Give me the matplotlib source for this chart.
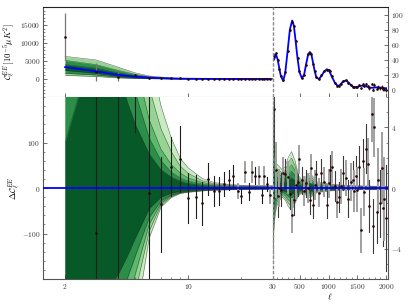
import numpy as np
import matplotlib
matplotlib.use("Agg")
import matplotlib.pyplot as plt
from matplotlib.ticker import FixedLocator, MultipleLocator, FuncFormatter, NullFormatter, NullLocator

plt.rcParams.update({
    "font.family": "serif",
    "font.serif": ["cmr10", "DejaVu Serif"],
    "mathtext.fontset": "cm",
    "axes.formatter.use_mathtext": True,
    "font.size": 5.3,
    "axes.linewidth": 0.8,
})

# ---- low-ell (2..29): model and residuals, in 10^-5 muK^2 -------------------
ell_lo = np.arange(2, 30)
model_lo = [3300, 2130, 1150, 650, 380, 230, 150, 100, 70, 52, 40, 32, 26, 21,
            17, 14, 12, 10, 9, 8, 8, 8, 9, 10, 11, 12, 14, 16]
dc_lo = [8450, -98, -510, 380, -11, -36, 47, 64, -22, -19, -34, 20, -7, -6,
         9, 18, 27, -7, -18, 36, -8, 36, 27, 27, -16, 27, 9, -16]
err_lo = [6500, 2500, 1200, 256, 260, 105, 65, 72, 55, 48, 47, 35, 33, 31,
          27, 22, 24, 16, 16, 22, 19, 22, 19, 19, 17, 20, 16, 18]

# ---- high-ell binned: model and residuals ----------------------------------
ell_hi = [59, 89, 120, 150, 175, 215, 250, 290, 331, 371, 400, 430, 463, 497,
          540, 578, 610, 648, 677, 705, 734, 762, 791, 833, 878, 924, 971, 1000,
          1023, 1058, 1110, 1155, 1190, 1215, 1248, 1300, 1345, 1386, 1431, 1449,
          1478, 1500, 1535, 1559, 1594, 1622, 1651, 1681, 1708, 1750, 1767, 1795,
          1836, 1864, 1893, 1923, 1950, 1968, 1995]
model_hi = [40, 47, 40, 27, 18, 11.5, 22, 50, 80, 92, 85, 65, 42, 23,
            15, 20, 33, 47, 50, 46, 35, 24, 16, 14, 18, 24, 27, 26,
            23, 17, 9, 5, 5.5, 7.5, 10.5, 12, 9.5, 6, 3.5, 3,
            3.2, 3.6, 4.4, 4.9, 5, 4.8, 4.2, 3.4, 2.7, 2.3, 2.3, 2.6,
            2.9, 2.9, 2.6, 2.2, 1.9, 1.8, 1.6]
dc_hi = [5.2, 1.2, -0.5, 0.0, -0.1, 1.0, 0.9, 0.7, -0.4, -1.8, -0.8, 0.2, 0.4, 1.9,
         0.5, -0.2, 0.3, 0.0, -0.8, 1.3, -1.1, 0.2, 0.9, -0.3, 1.0, 0.4, -1.1, 0.3,
         1.2, 1.4, 0.15, -0.9, -0.6, 0.1, 1.0, 0.65, -0.7, 0.4, 0.5, -0.2,
         0.8, -0.1, 1.4, -2.8, 1.75, -0.25, 2.6, 1.6, -1.2, 4.9, -2.5, 4.0,
         -1.6, 0.5, -1.0, 1.3, -1.3, -0.7, -2.0]
err_hi = [3.0, 1.8, 1.4, 1.2, 1.1, 1.0, 1.0, 1.0, 1.0, 1.1, 1.0, 0.9, 0.9, 0.9,
          0.9, 0.9, 0.9, 0.9, 0.9, 0.9, 0.9, 0.9, 0.9, 0.9, 0.9, 0.9, 0.9, 0.9,
          1.0, 1.0, 1.0, 1.0, 1.0, 1.1, 1.1, 1.1, 1.2, 1.2, 1.3, 1.3,
          1.3, 1.4, 1.4, 1.4, 1.5, 1.5, 1.6, 1.6, 1.7, 1.8, 1.8, 1.9,
          2.0, 2.1, 2.2, 2.3, 2.5, 2.7, 3.5]

# ---- posterior bands ---------------------------------------------------------
# top-left (C_ell), three levels outer -> inner
tl_knots = [2, 3, 4, 5, 6, 8, 10, 15, 30]
tl_up = [[6300, 5300, 3300, 1700, 850, 300, 120, 30, 10],
         [5200, 4000, 2400, 1300, 650, 230, 95, 25, 8],
         [4000, 3000, 1700, 950, 500, 190, 80, 22, 7]]
tl_lo = [[1000, 700, 300, 150, 80, 30, 15, 5, 3],
         [1600, 1100, 500, 250, 130, 50, 25, 8, 4],
         [2400, 1600, 800, 400, 220, 90, 45, 12, 5]]

# bottom-left (Delta C_ell), five levels outer -> inner
bl_knots = [2, 2.5, 3, 3.5, 4, 4.5, 5, 6, 7, 8, 9, 10, 12, 14, 17, 20, 25, 30]
bl_up = [
    [300, 300, 300, 300, 300, 300, 300, 300, 180, 110, 65, 44, 21, 12, 8, 6, 5, 5],
    [300, 300, 300, 300, 300, 300, 300, 220, 130, 80, 48, 32, 16, 9.5, 6.5, 5, 4.3, 4],
    [300, 300, 300, 300, 300, 300, 280, 150, 85, 52, 33, 22, 12, 7.5, 5, 4, 3.5, 3.2],
    [300, 300, 300, 300, 300, 260, 210, 110, 60, 35, 22, 15, 8.5, 5.5, 4, 3.3, 2.7, 2.5],
    [100, 230, 300, 300, 260, 190, 140, 75, 40, 24, 15, 10, 6, 4, 3, 2.5, 2, 2],
]
bl_lo = [
    [-300, -300, -300, -300, -300, -300, -300, -110, -42, -21, -12, -9.5, -6.5, -5, -4, -3.5, -3, -3],
    [-300, -300, -300, -300, -300, -300, -230, -95, -37, -19, -11, -8.5, -5.7, -4.3, -3.3, -2.8, -2.5, -2.3],
    [-300, -300, -300, -300, -300, -260, -190, -80, -33, -17, -10, -7.5, -5, -3.7, -2.8, -2.3, -2, -1.8],
    [-300, -300, -300, -300, -260, -200, -150, -65, -28, -15, -9, -6.5, -4, -3, -2.2, -1.8, -1.5, -1.4],
    [-300, -300, -300, -220, -190, -150, -110, -45, -20, -11, -7, -5, -3, -2.2, -1.6, -1.3, -1, -1],
]

# bottom-right (Delta C_ell), outer envelope
br_knots = [30, 40, 50, 70, 100, 150, 200, 250, 300, 360, 420, 480, 550, 620,
            680, 740, 800, 900, 1000, 1200, 1500, 2030]
br_up = [6.5, 5.5, 4, 2.5, 1.6, 1.4, 1.2, 1.4, 2.0, 2.4, 1.8, 0.8, 0.5, 0.8,
         1.0, 0.7, 0.4, 0.35, 0.3, 0.2, 0.15, 0.1]
br_lo = [-6, -4.5, -3, -2, -1.2, -0.8, -0.6, -0.8, -1.2, -1.5, -1.0, -0.5, -0.3,
         -0.5, -0.65, -0.45, -0.3, -0.25, -0.2, -0.15, -0.1, -0.1]
br_frac = [1.0, 0.82, 0.64, 0.46, 0.28]

greens = ["#c9ebc3", "#97d493", "#5cb86b", "#2b8f4a", "#075a28"]
edge_kw = dict(color="#2e2e2e", lw=0.35, alpha=0.75)

W, H = 411, 308


def box(x0, y0, x1, y1):
    return [x0 / W, 1 - y1 / H, (x1 - x0) / W, (y1 - y0) / H]


fig = plt.figure(figsize=(W / 100, H / 100), dpi=100)
ax_tl = fig.add_axes(box(43, 7, 272.5, 97))
ax_tr = fig.add_axes(box(272.5, 7, 388, 97))
ax_bl = fig.add_axes(box(43, 97, 272.5, 279))
ax_br = fig.add_axes(box(272.5, 97, 388, 279))

pt_color = "#2a0505"
blue = "#0000ff"

# ---- top left ---------------------------------------------------------------
for up, lo, c in zip(tl_up, tl_lo, [greens[1], greens[3], greens[4]]):
    ax_tl.fill_between(tl_knots, lo, up, color=c, lw=0, zorder=1)
    ax_tl.plot(tl_knots, up, zorder=1.5, **edge_kw)
    ax_tl.plot(tl_knots, lo, zorder=1.5, **edge_kw)
c_lo = np.array(model_lo) + np.array(dc_lo)
ax_tl.errorbar(ell_lo, c_lo, yerr=err_lo, fmt="none", ecolor="#777777",
               elinewidth=0.9, capsize=0, zorder=2)
ax_tl.plot(ell_lo, model_lo, color=blue, lw=1.3, zorder=3)
ax_tl.plot(ell_lo, c_lo, "o", ms=1.9, mew=0, color=pt_color, zorder=4)

# ---- top right --------------------------------------------------------------
c_hi = np.array(model_hi) + np.array(dc_hi)
ax_tr.errorbar(ell_hi, c_hi, yerr=err_hi, fmt="none", ecolor="#555555",
               elinewidth=0.7, capsize=0, zorder=2)
ax_tr.plot(ell_hi, model_hi, color=blue, lw=1.3, zorder=3)
ax_tr.plot(ell_hi, c_hi, "o", ms=1.9, mew=0, color=pt_color, zorder=4)

# ---- bottom left ------------------------------------------------------------
for up, lo, c in zip(bl_up, bl_lo, greens):
    ax_bl.fill_between(bl_knots, lo, up, color=c, lw=0, zorder=1)
    ax_bl.plot(bl_knots, up, zorder=1.5, **edge_kw)
    ax_bl.plot(bl_knots, lo, zorder=1.5, **edge_kw)
for i, (l, d, e) in enumerate(zip(ell_lo, dc_lo, err_lo)):
    if l <= 18 or i % 2 == 0:
        col, lw = "#1e1e1e", 0.8
    else:
        col, lw = "#9a9a9a", 1.3
    ax_bl.plot([l, l], [d - e, d + e], color=col, lw=lw, zorder=2)
ax_bl.axhline(0, color=blue, lw=1.3, zorder=3)
ax_bl.plot(ell_lo, dc_lo, "o", ms=1.9, mew=0, color=pt_color, zorder=4)

# ---- bottom right -----------------------------------------------------------
for f, c in zip(br_frac, greens):
    up = np.array(br_up) * f
    lo = np.array(br_lo) * f
    ax_br.fill_between(br_knots, lo, up, color=c, lw=0, zorder=1)
    ax_br.plot(br_knots, up, zorder=1.5, **edge_kw)
    ax_br.plot(br_knots, lo, zorder=1.5, **edge_kw)
for i, (l, d, e) in enumerate(zip(ell_hi, dc_hi, err_hi)):
    if i % 2 == 0:
        col, lw = "#3a3a3a", 0.8
    else:
        col, lw = "#a0a0a0", 1.4
    ax_br.plot([l, l], [d - e, d + e], color=col, lw=lw, zorder=2)
ax_br.axhline(0, color=blue, lw=1.3, zorder=3)
ax_br.plot(ell_hi, dc_hi, "o", ms=1.9, mew=0, color=pt_color, zorder=4)

# ---- axes cosmetics ---------------------------------------------------------
for ax in (ax_tl, ax_bl):
    ax.set_xscale("log")
    ax.set_xlim(1.5, 30)
    ax.spines["right"].set_visible(False)
    ax.xaxis.set_major_locator(FixedLocator([2, 10, 30]))
    ax.xaxis.set_minor_locator(FixedLocator([3, 4, 5, 6, 7, 8, 9, 20]))
for ax in (ax_tr, ax_br):
    ax.set_xlim(30, 2030)
    ax.spines["left"].set_visible(False)
    ax.xaxis.set_major_locator(FixedLocator([500, 1000, 1500, 2000]))
    ax.xaxis.set_minor_locator(MultipleLocator(100))
    ax.yaxis.tick_right()
    ax.axvline(30, color="#8a8a8a", ls=(0, (2.5, 1.2)), lw=1.0, clip_on=False, zorder=5)

fmt = FuncFormatter(lambda v, p: f"${v:g}$")

ax_tl.set_ylim(-5000, 20000)
ax_tl.yaxis.set_major_locator(FixedLocator([0, 5000, 10000, 15000]))
ax_tl.yaxis.set_minor_locator(MultipleLocator(1000))
ax_tr.set_ylim(-10, 110)
ax_tr.yaxis.set_major_locator(FixedLocator([0, 20, 40, 60, 80, 100]))
ax_tr.yaxis.set_minor_locator(MultipleLocator(10))
ax_bl.set_ylim(-200, 200)
ax_bl.yaxis.set_major_locator(FixedLocator([-100, 0, 100]))
ax_bl.yaxis.set_minor_locator(MultipleLocator(20))
ax_br.set_ylim(-6, 6)
ax_br.yaxis.set_major_locator(FixedLocator([-4, 0, 4]))
ax_br.yaxis.set_minor_locator(MultipleLocator(1))

for ax in (ax_tl, ax_tr, ax_bl, ax_br):
    ax.yaxis.set_major_formatter(fmt)
    ax.xaxis.set_major_formatter(fmt)
    ax.xaxis.set_minor_formatter(NullFormatter())
    ax.tick_params(which="major", direction="in", length=2.6, width=0.5, pad=2,
                   labelsize=5.3, colors="#333333")
    ax.tick_params(which="minor", direction="in", length=1.4, width=0.4,
                   colors="#333333")
    for s in ax.spines.values():
        s.set_color("#555555")
for ax in (ax_tl, ax_tr):
    ax.tick_params(axis="x", labelbottom=False)
    ax.xaxis.set_minor_locator(NullLocator())
    ax.spines["top"].set_color("#222222")
    ax.spines["bottom"].set_color("#8a8a8a")
ax_bl.spines["top"].set_visible(False)
ax_br.spines["top"].set_visible(False)

ax_tl.set_ylabel(r"$\mathcal{C}_\ell^{EE}\,[10^{-5}\mu K^2]$", fontsize=6.3, labelpad=2)
ax_bl.set_ylabel(r"$\Delta\mathcal{C}_\ell^{EE}$", fontsize=6.3, labelpad=0)
ax_br.set_xlabel(r"$\ell$", fontsize=6.5, labelpad=1)

fig.savefig("out.png", dpi=100)
